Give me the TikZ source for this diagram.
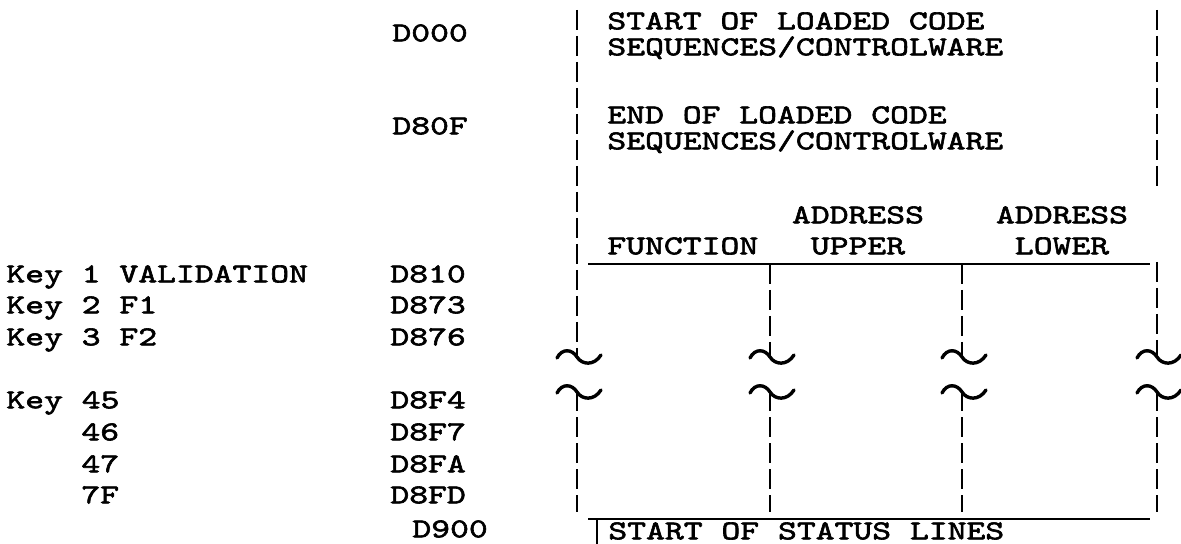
\documentclass[tikz,border=0pt]{standalone}
\usepackage{fontspec}
\newfontfamily\twfam{lmmono10-regular.otf}[FakeBold=2.2,FakeStretch=1.32]
\newcommand{\twfont}{\twfam\fontsize{13.6}{16}\selectfont}
\begin{document}
\begin{tikzpicture}[x=0.5pt,y=-0.5pt,
  lbl/.style={font=\twfont, inner sep=0pt, text height=8.3pt, text depth=0pt, anchor=west},
  ctr/.style={lbl, anchor=center},
  dline/.style={line width=1.45pt, dash pattern=on 10pt off 3pt},
  hline/.style={line width=1.2pt},
  tild/.style={line width=1.7pt, line cap=round},
  brk/.pic={\draw[tild] (-20,2) .. controls (-15,-8) and (-5,-7) .. (0,1) .. controls (5,9) and (17,10) .. (24,-1);}
]
\useasboundingbox (0,0) rectangle (1181,544);
% top block
\node[lbl] (d000) at (392,33) {D000};
\node[lbl] (d80f) at (392,126) {D80F};
\node[lbl] (t1) at (607,21) {START OF LOADED CODE};
\node[lbl] (t2) at (607,47) {SEQUENCES/CONTROLWARE};
\node[lbl] (t3) at (607,115) {END OF LOADED CODE};
\node[lbl] (t4) at (607,141) {SEQUENCES/CONTROLWARE};
% header
\node[ctr] (a1) at (858,215) {ADDRESS};
\node[ctr] (a2) at (1062,215) {ADDRESS};
\node[lbl] (fn) at (607,246) {FUNCTION};
\node[ctr] (up) at (858,246) {UPPER};
\node[ctr] (lo) at (1062,246) {LOWER};
% left rows
\node[lbl] (k1) at (6,274) {Key 1 VALIDATION};
\node[lbl] (k2) at (6,305) {Key 2 F1};
\node[lbl] (k3) at (6,337) {Key 3 F2};
\node[lbl] (k45) at (6,400) {Key 45};
\node[lbl] (k46) at (81,432) {46};
\node[lbl] (k47) at (81,464) {47};
\node[lbl] (k7f) at (81,495) {7F};
\node[lbl] (d810) at (390,274) {D810};
\node[lbl] (d873) at (390,305) {D873};
\node[lbl] (d876) at (390,337) {D876};
\node[lbl] (d8f4) at (390,400) {D8F4};
\node[lbl] (d8f7) at (390,432) {D8F7};
\node[lbl] (d8fa) at (390,464) {D8FA};
\node[lbl] (d8fd) at (390,495) {D8FD};
\node[lbl] (d900) at (412,529) {D900};
\node[lbl] (status) at (608,531) {START OF STATUS LINES};
% coordinates
\coordinate (L0) at (577,10);
\coordinate (La) at (577,356);
\coordinate (Lb) at (577,391);
\coordinate (Lz) at (577,512);
\coordinate (R0) at (1157,10);
\coordinate (R1) at (1157,188);
\coordinate (R2) at (1157,262);
\coordinate (Ra) at (1157,356);
\coordinate (Rb) at (1157,391);
\coordinate (Rz) at (1157,512);
\coordinate (M0) at (770,264);
\coordinate (Ma) at (770,356);
\coordinate (Mb) at (770,391);
\coordinate (Mz) at (770,512);
\coordinate (N0) at (962,264);
\coordinate (Na) at (962,356);
\coordinate (Nb) at (962,391);
\coordinate (Nz) at (962,512);
\coordinate (U0) at (588,264);
\coordinate (U1) at (1150,264);
\coordinate (B0) at (588,519);
\coordinate (B1) at (1150,519);
\coordinate (T0) at (597,519);
\coordinate (T1) at (597,544);
% vertical lines
\draw[dline] (L0) -- (La);
\draw[dline] (Lb) -- (Lz);
\draw[dline] (R0) -- (R1);
\draw[dline] (R2) -- (Ra);
\draw[dline] (Rb) -- (Rz);
\draw[dline] (M0) -- (Ma);
\draw[dline] (Mb) -- (Mz);
\draw[dline] (N0) -- (Na);
\draw[dline] (Nb) -- (Nz);
% break marks
\pic at (La) {brk};
\pic at (Lb) {brk};
\pic at (Ma) {brk};
\pic at (Mb) {brk};
\pic at (Na) {brk};
\pic at (Nb) {brk};
\pic at (Ra) {brk};
\pic at (Rb) {brk};
% horizontal lines
\draw[hline] (U0) -- (U1);
\draw[hline] (B0) -- (B1);
\draw[line width=0.9pt] (T0) -- (T1);
\end{tikzpicture}
\end{document}
